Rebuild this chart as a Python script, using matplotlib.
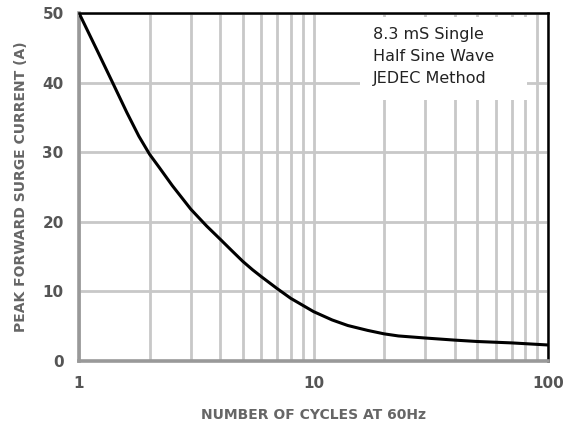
import numpy as np
import matplotlib
matplotlib.use("Agg")
import matplotlib.pyplot as plt
from matplotlib.patches import Rectangle
from matplotlib.ticker import FixedLocator, NullFormatter

# Surge current curve
cycles = [1, 1.2, 1.4, 1.6, 1.8, 2, 2.2, 2.5, 3, 3.5, 4, 4.5, 5, 5.5, 6, 7, 8, 9, 10,
          12, 14, 17, 20, 23, 30, 40, 50, 70, 100]
current = [50, 44.5, 39.8, 35.7, 32.3, 29.7, 27.8, 25.2, 21.8, 19.4, 17.5, 15.8, 14.3,
           13.1, 12.1, 10.4, 9.0, 8.0, 7.1, 5.9, 5.1, 4.4, 3.9, 3.6, 3.3, 3.0, 2.8, 2.6, 2.3]

x_ticks = [1, 10, 100]
x_tick_labels = ["1", "10", "100"]
y_ticks = [0, 10, 20, 30, 40, 50]
note = "8.3 mS Single\nHalf Sine Wave\nJEDEC Method"

fig = plt.figure(figsize=(5.63, 4.25), dpi=100)
ax = fig.add_axes([0.1403, 0.1506, 0.8331, 0.8188])

ax.set_xscale("log")
ax.set_xlim(1, 100)
ax.set_ylim(0, 50)

# grid
minor = [m * d for d in (1, 10) for m in range(2, 10)]
ax.xaxis.set_minor_locator(FixedLocator(minor))
ax.xaxis.set_minor_formatter(NullFormatter())
ax.set_xticks(x_ticks)
ax.set_xticklabels(x_tick_labels)
ax.set_yticks(y_ticks)
ax.grid(True, which="both", axis="x", color="#c8c8c8", lw=2.0)
ax.grid(True, which="major", axis="y", color="#c8c8c8", lw=2.0)
ax.set_axisbelow(True)

ax.plot(cycles, current, color="black", lw=2.2, zorder=3)

# spines
for s in ("left", "bottom"):
    ax.spines[s].set_color("#999999")
    ax.spines[s].set_linewidth(2.6)
for s in ("top", "right"):
    ax.spines[s].set_color("black")
    ax.spines[s].set_linewidth(1.8)

ax.tick_params(which="both", length=0)
ax.tick_params(axis="y", pad=11, labelsize=11, labelcolor="#555555")
ax.tick_params(axis="x", pad=11, labelsize=11, labelcolor="#555555")
for lab in ax.get_xticklabels() + ax.get_yticklabels():
    lab.set_fontweight("bold")

ax.set_xlabel("NUMBER OF CYCLES AT 60Hz", fontsize=10, color="#666666",
              fontweight="bold", labelpad=12)
ax.set_ylabel("PEAK FORWARD SURGE CURRENT (A)", fontsize=10, color="#666666",
              fontweight="bold", labelpad=10)

# note box (white patch hides the grid behind the text)
ax.add_patch(Rectangle((0.599, 0.75), 0.356, 0.239, transform=ax.transAxes,
                       fc="white", ec="none", zorder=2))
ax.text(0.627, 0.96, note, transform=ax.transAxes, ha="left", va="top",
        fontsize=11.5, color="#222222", linespacing=1.6, zorder=4)

fig.savefig("out.png", dpi=100)
